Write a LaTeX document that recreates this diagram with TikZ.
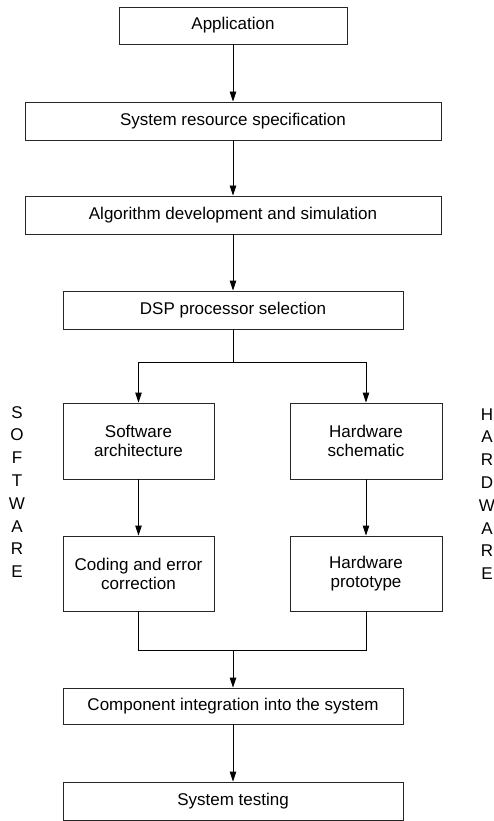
\documentclass[tikz,border=0pt]{standalone}
\usepackage{fontspec}
\setmainfont{Liberation Sans}
\usetikzlibrary{arrows.meta}
\begin{document}
\begin{tikzpicture}[x=1pt,y=-1pt,
  box/.style={draw=black!85, line width=0.9pt, inner sep=0pt, align=center,
    font=\fontsize{17}{19}\selectfont},
  arr/.style={draw=black, line width=0.9pt, -{Triangle[length=10pt,width=6.5pt]}},
  ln/.style={draw=black, line width=0.9pt},
  side/.style={align=center, inner sep=0pt, font=\fontsize{17}{22.8}\selectfont}]
\useasboundingbox (0,0) rectangle (494,821);
\node[box, minimum width=228, minimum height=37] (app) at (233,25.5) {Application};
\node[box, minimum width=416, minimum height=38] (sys) at (233,121) {System resource specification};
\node[box, minimum width=416, minimum height=38] (alg) at (233,215) {Algorithm development and simulation};
\node[box, minimum width=340, minimum height=38] (dsp) at (233,310) {DSP processor selection};
\node[box, minimum width=151, minimum height=76] (swa) at (138.5,441) {Software\\architecture};
\node[box, minimum width=152, minimum height=76] (hws) at (366,441) {Hardware\\schematic};
\node[box, minimum width=151, minimum height=75] (cod) at (138.5,573.5) {Coding and error\\correction};
\node[box, minimum width=152, minimum height=75] (hwp) at (366,573.5) {Hardware\\prototype};
\node[box, minimum width=340, minimum height=36] (comp) at (233,706) {Component integration into the system};
\node[box, minimum width=340, minimum height=38] (test) at (233,801) {System testing};
\node[side] (sw) at (17,492) {S\\O\\F\\T\\W\\A\\R\\E};
\node[side] (hw) at (487,494) {H\\A\\R\\D\\W\\A\\R\\E};
\coordinate (j1) at (233,362.7);
\coordinate (j2) at (233,650);
\draw[arr] (app) -- (sys);
\draw[arr] (sys) -- (alg);
\draw[arr] (alg) -- (dsp);
\draw[ln] (dsp) -- (j1);
\draw[arr] (j1) -| (swa);
\draw[arr] (j1) -| (hws);
\draw[arr] (swa) -- (cod);
\draw[arr] (hws) -- (hwp);
\draw[ln] (cod) |- (j2);
\draw[ln] (hwp) |- (j2);
\draw[arr] (j2) -- (comp);
\draw[arr] (comp) -- (test);
\end{tikzpicture}
\end{document}
